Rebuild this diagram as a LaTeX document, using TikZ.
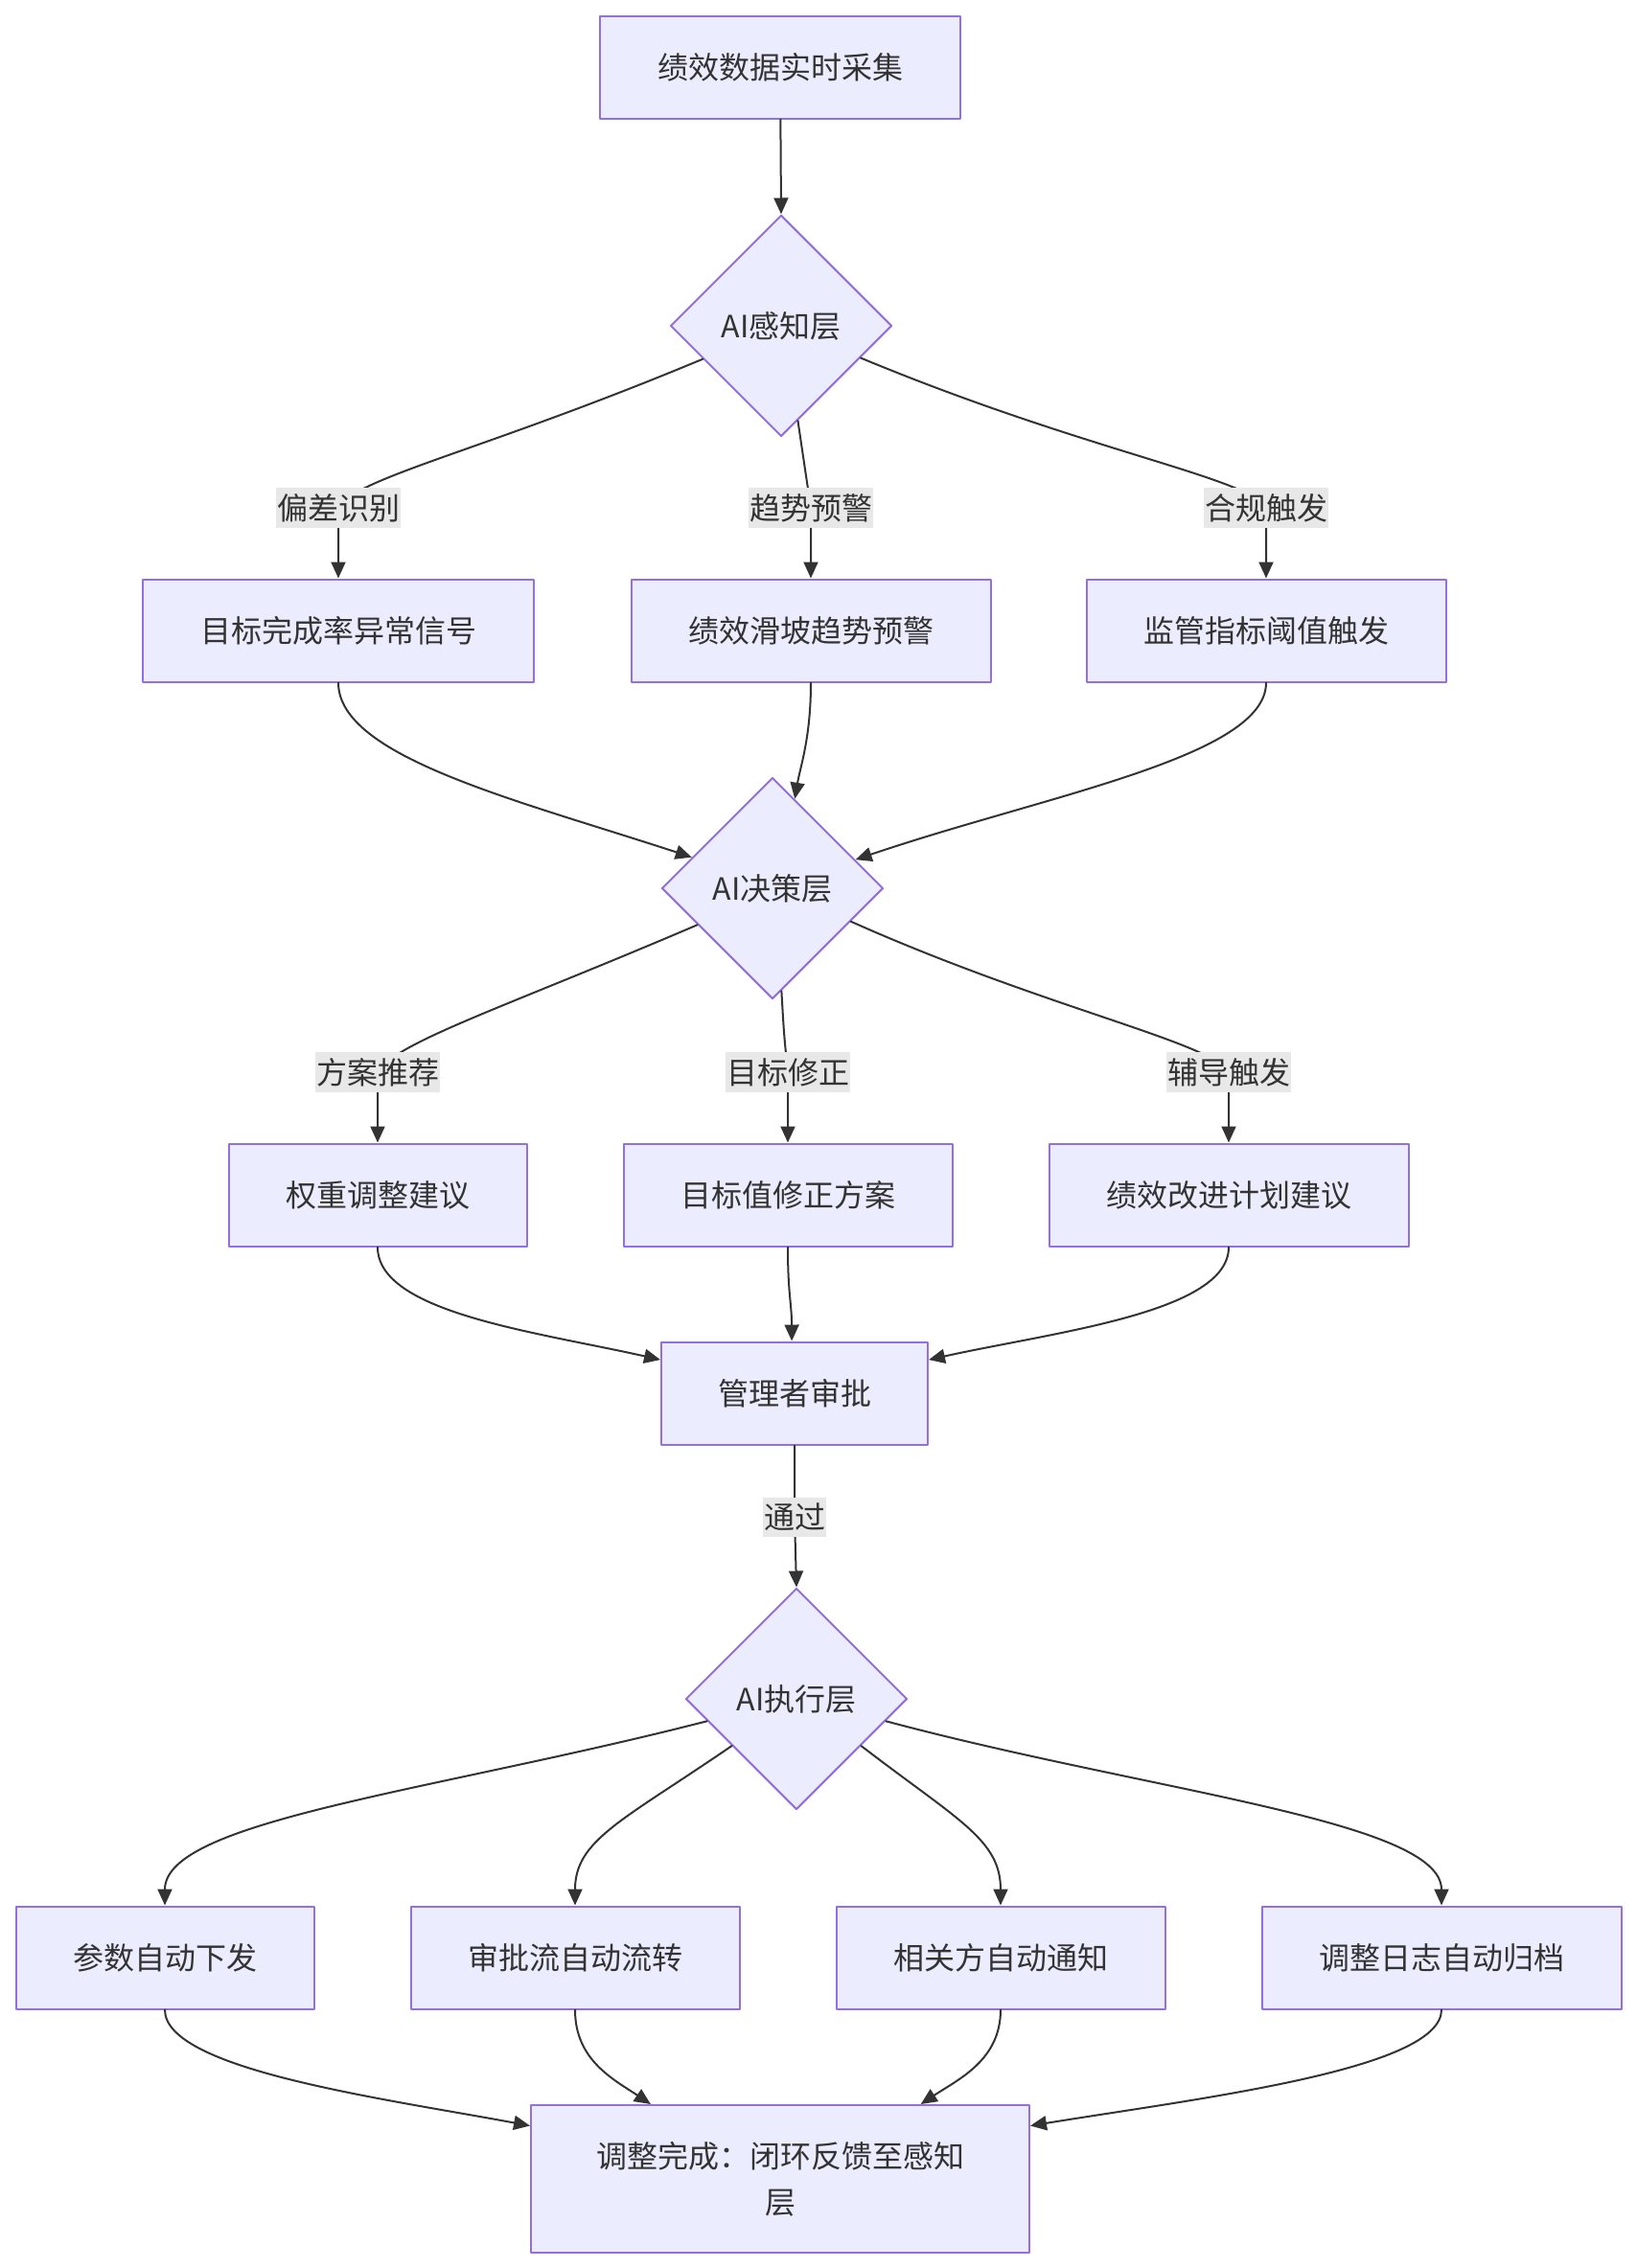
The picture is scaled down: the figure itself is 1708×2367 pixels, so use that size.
\documentclass[tikz,border=0pt]{standalone}
\usepackage{fontspec}
\setmainfont{Noto Sans CJK SC}
\usetikzlibrary{arrows.meta,shapes.geometric}
\definecolor{nodefill}{HTML}{ECECFF}
\definecolor{nodeline}{HTML}{9370DB}
\definecolor{inkgray}{HTML}{333333}
\definecolor{labelgray}{HTML}{E8E8E8}
\begin{document}
\begin{tikzpicture}[x=1pt,y=-1pt,line join=round,line cap=round,
		font=\fontsize{32pt}{48pt}\selectfont,text=inkgray,
		>={Triangle[length=17pt,width=15pt]},
		box/.style={draw=nodeline,fill=nodefill,line width=2pt,minimum height=107pt,inner sep=0pt},
		choice/.style={diamond,aspect=1,draw=nodeline,fill=nodefill,line width=2pt,minimum width=231pt,minimum height=231pt,inner sep=0pt},
		lbl/.style={fill=labelgray,inner xsep=1pt,inner ysep=6pt},
		edge/.style={->,draw=inkgray,line width=2pt}]
	\useasboundingbox (0,0) rectangle (1708,2367);
	
	% nodes
	\node[box,minimum width=376pt] (src) at (814,70) {绩效数据实时采集};
	\node[choice] (d1) at (815,340) {AI感知层};
	\node[box,minimum width=408pt] (r1a) at (353,658) {目标完成率异常信号};
	\node[box,minimum width=375pt] (r1b) at (846,658) {绩效滑坡趋势预警};
	\node[box,minimum width=375pt] (r1c) at (1321,658) {监管指标阈值触发};
	\node[choice] (d2) at (806,927) {AI决策层};
	\node[box,minimum width=311pt] (r2a) at (394,1247) {权重调整建议};
	\node[box,minimum width=343pt] (r2b) at (822,1247) {目标值修正方案};
	\node[box,minimum width=375pt] (r2c) at (1282,1247) {绩效改进计划建议};
	\node[box,minimum width=278pt] (appr) at (829,1454) {管理者审批};
	\node[choice] (d3) at (831,1773) {AI执行层};
	\node[box,minimum width=311pt] (r3a) at (172,2043) {参数自动下发};
	\node[box,minimum width=343pt] (r3b) at (600,2043) {审批流自动流转};
	\node[box,minimum width=343pt] (r3c) at (1044,2043) {相关方自动通知};
	\node[box,minimum width=375pt] (r3d) at (1504,2043) {调整日志自动归档};
	\node[box,minimum width=520pt,minimum height=154pt,align=center] (fin) at (814,2274) {调整完成：闭环反馈至感知\\层};
	
	% label anchors
	\coordinate (l1a) at (353,530);
	\coordinate (l1b) at (846,530);
	\coordinate (l1c) at (1321,530);
	\coordinate (l2a) at (394,1119);
	\coordinate (l2b) at (822,1119);
	\coordinate (l2c) at (1282,1119);
	\coordinate (lpass) at (829,1583);
	
	% connectors
	\draw[edge] (src) -- (d1.north);
	\draw[edge] (d1.203) .. controls (500,472) and (372,498) .. (l1a) -- (r1a.north);
	\draw[edge] (d1.280) .. controls (840,490) .. (l1b) -- (r1b.north);
	\draw[edge] (d1.338) .. controls (1135,472) and (1302,498) .. (l1c) -- (r1c.north);
	
	\draw[edge] (r1a.south) .. controls (353,790) and (540,835) .. (d2.159);
	\draw[edge] (r1b.south) .. controls (846,770) and (835,800) .. (d2.76);
	\draw[edge] (r1c.south) .. controls (1321,790) and (1090,830) .. (d2.19);
	
	\draw[edge] (d2.206) .. controls (525,1052) and (412,1088) .. (l2a) -- (r2a.north);
	\draw[edge] (d2.275) .. controls (818,1080) .. (l2b) -- (r2b.north);
	\draw[edge] (d2.337) .. controls (1090,1052) and (1265,1088) .. (l2c) -- (r2c.north);
	
	\draw[edge] (r2a.south) .. controls (394,1370) and (560,1390) .. (appr.166);
	\draw[edge] (r2b.south) .. controls (822,1350) and (826,1360) .. (appr.93);
	\draw[edge] (r2c.south) .. controls (1282,1370) and (1100,1390) .. (appr.14);
	
	\draw[edge] (appr.south) -- (lpass) -- (d3.north);
	
	\draw[edge] (d3.194) .. controls (450,1870) and (172,1900) .. (r3a.north);
	\draw[edge] (d3.216) .. controls (650,1900) and (600,1920) .. (r3b.north);
	\draw[edge] (d3.324) .. controls (1000,1900) and (1044,1920) .. (r3c.north);
	\draw[edge] (d3.346) .. controls (1200,1870) and (1504,1900) .. (r3d.north);
	
	\draw[edge] (r3a.south) .. controls (172,2160) and (400,2190) .. (fin.168);
	\draw[edge] (r3b.south) .. controls (600,2150) and (640,2170) .. (fin.150);
	\draw[edge] (r3c.south) .. controls (1044,2150) and (1000,2170) .. (fin.28);
	\draw[edge] (r3d.south) .. controls (1504,2160) and (1250,2190) .. (fin.12);
	
	% edge labels
	\node[lbl] at (l1a) {偏差识别};
	\node[lbl] at (l1b) {趋势预警};
	\node[lbl] at (l1c) {合规触发};
	\node[lbl] at (l2a) {方案推荐};
	\node[lbl] at (l2b) {目标修正};
	\node[lbl] at (l2c) {辅导触发};
	\node[lbl] at (lpass) {通过};
\end{tikzpicture}
\end{document}
